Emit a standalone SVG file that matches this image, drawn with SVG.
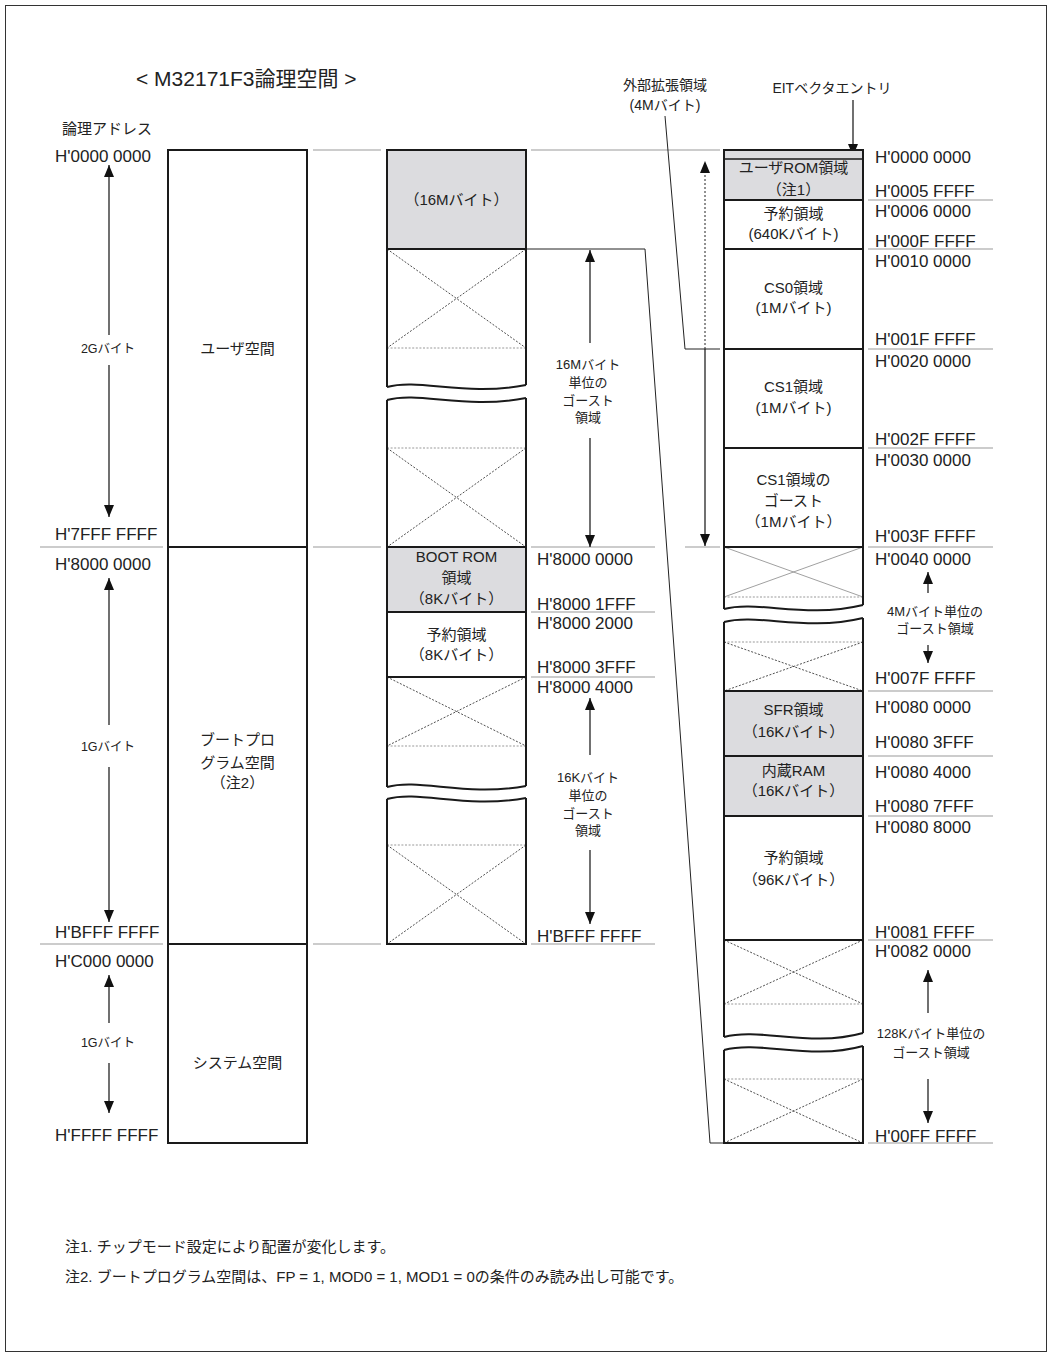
<svg xmlns="http://www.w3.org/2000/svg" width="1050" height="1357" viewBox="0 0 1050 1357">
<style>
text{font-family:"Liberation Sans","Noto Sans CJK JP",sans-serif;fill:#222}
.a{font-size:17px}
.l{font-size:15px;text-anchor:middle}
.s{font-size:13px;text-anchor:middle}
.o{fill:none;stroke:#1a1a1a;stroke-width:2}
.sep{stroke:#1a1a1a;stroke-width:2}
.g{fill:#dcdcdf}
.ad{stroke:#999;stroke-width:1}
.x{stroke:#222;stroke-width:0.8;stroke-dasharray:2 1.6}
.xg{stroke:#888;stroke-width:0.8}
.hd{stroke:#999;stroke-width:1;stroke-dasharray:2 1.6}
.ld{fill:none;stroke:#222;stroke-width:1}
.ar{stroke:#111;stroke-width:1.2;marker-end:url(#ah)}
</style>
<defs>
<marker id="ah" viewBox="0 0 12 10" refX="12" refY="5" markerWidth="12" markerHeight="10" markerUnits="userSpaceOnUse" orient="auto"><path d="M0,0 L12,5 L0,10 z" fill="#111"/></marker>
</defs>
<rect x="5.5" y="5.5" width="1041" height="1346" fill="#fff" stroke="#333" stroke-width="1"/>

<text x="136" y="86" style="font-size:21px">&lt; M32171F3論理空間 &gt;</text>
<text x="62" y="134" style="font-size:15px">論理アドレス</text>

<g id="connectors">
<line class="ad" x1="40" y1="547" x2="163" y2="547"/>
<line class="ad" x1="40" y1="944" x2="163" y2="944"/>
<line class="ad" x1="313" y1="150" x2="381" y2="150"/>
<line class="ad" x1="313" y1="547" x2="381" y2="547"/>
<line class="ad" x1="313" y1="944" x2="381" y2="944"/>
<line class="ad" x1="531" y1="150" x2="720" y2="150"/>
<line class="ad" x1="531" y1="547" x2="655" y2="547"/>
<line class="ad" x1="531" y1="612" x2="655" y2="612"/>
<line class="ad" x1="531" y1="677" x2="655" y2="677"/>
<line class="ad" x1="531" y1="944" x2="655" y2="944"/>
<line class="ad" x1="685" y1="547" x2="720" y2="547"/>
<line class="ad" x1="868" y1="200" x2="993" y2="200"/>
<line class="ad" x1="868" y1="249" x2="993" y2="249"/>
<line class="ad" x1="868" y1="349" x2="993" y2="349"/>
<line class="ad" x1="868" y1="448" x2="993" y2="448"/>
<line class="ad" x1="868" y1="547" x2="993" y2="547"/>
<line class="ad" x1="868" y1="691" x2="993" y2="691"/>
<line class="ad" x1="868" y1="756" x2="993" y2="756"/>
<line class="ad" x1="868" y1="816" x2="993" y2="816"/>
<line class="ad" x1="868" y1="940" x2="993" y2="940"/>
<line class="ad" x1="868" y1="1143" x2="993" y2="1143"/>
<path class="ld" d="M526,249 L645,249 L710,1143 L724,1143"/>
<path class="ld" d="M665,116 L685,349 L720,349"/>
<line x1="705" y1="349" x2="705" y2="161" stroke="#222" stroke-width="1" stroke-dasharray="2 2" marker-end="url(#ah)"/>
<line class="ar" x1="705" y1="349" x2="705" y2="546"/>
<line class="ar" x1="853" y1="100" x2="853" y2="156"/>
<line class="ar" x1="109" y1="335" x2="109" y2="165"/>
<line class="ar" x1="109" y1="365" x2="109" y2="517"/>
<line class="ar" x1="109" y1="725" x2="109" y2="578"/>
<line class="ar" x1="109" y1="767" x2="109" y2="922"/>
<line class="ar" x1="109" y1="1023" x2="109" y2="975"/>
<line class="ar" x1="109" y1="1063" x2="109" y2="1113"/>
<line class="ar" x1="590" y1="343" x2="590" y2="250"/>
<line class="ar" x1="590" y1="438" x2="590" y2="547"/>
<line class="ar" x1="590" y1="755" x2="590" y2="698"/>
<line class="ar" x1="590" y1="850" x2="590" y2="924"/>
<line class="ar" x1="928" y1="593" x2="928" y2="572"/>
<line class="ar" x1="928" y1="645" x2="928" y2="663"/>
<line class="ar" x1="928" y1="1013" x2="928" y2="970"/>
<line class="ar" x1="928" y1="1079" x2="928" y2="1123"/>
</g>

<g id="left-column">
<rect x="168" y="150" width="139" height="993" fill="#fff" class="o"/>
<line class="sep" x1="168" y1="547" x2="307" y2="547"/>
<line class="sep" x1="168" y1="944" x2="307" y2="944"/>
<text class="l" x="237.5" y="354">ユーザ空間</text>
<text class="l" x="237.5" y="745">ブートプロ</text>
<text class="l" x="237.5" y="768">グラム空間</text>
<text class="l" x="237.5" y="788">（注2）</text>
<text class="l" x="237.5" y="1068">システム空間</text>
</g>

<g id="left-labels">
<text class="a" x="55" y="162">H'0000 0000</text>
<text class="a" x="55" y="540">H'7FFF FFFF</text>
<text class="a" x="55" y="570">H'8000 0000</text>
<text class="a" x="55" y="938">H'BFFF FFFF</text>
<text class="a" x="55" y="967">H'C000 0000</text>
<text class="a" x="55" y="1141">H'FFFF FFFF</text>
<text class="s" x="108" y="353" style="font-size:12.5px">2Gバイト</text>
<text class="s" x="108" y="751" style="font-size:12.5px">1Gバイト</text>
<text class="s" x="108" y="1047" style="font-size:12.5px">1Gバイト</text>
</g>

<g id="middle-column">
<rect class="g" x="387" y="150" width="139" height="99"/>
<rect class="g" x="387" y="547" width="139" height="65"/>
<line class="x" x1="387" y1="249" x2="526" y2="348"/>
<line class="x" x1="526" y1="249" x2="387" y2="348"/>
<line class="hd" x1="387" y1="348" x2="526" y2="348"/>
<line class="hd" x1="387" y1="448" x2="526" y2="448"/>
<line class="x" x1="387" y1="448" x2="526" y2="547"/>
<line class="x" x1="526" y1="448" x2="387" y2="547"/>
<line class="x" x1="387" y1="677" x2="526" y2="746"/>
<line class="x" x1="526" y1="677" x2="387" y2="746"/>
<line class="hd" x1="387" y1="746" x2="526" y2="746"/>
<line class="hd" x1="387" y1="845" x2="526" y2="845"/>
<line class="x" x1="387" y1="845" x2="526" y2="944"/>
<line class="x" x1="526" y1="845" x2="387" y2="944"/>
<path class="o" d="M387,387 L387,150 L526,150 L526,385"/>
<path class="o" d="M387,387 C420,378 465,397 526,385"/>
<path class="o" d="M387,400 C420,391 465,410 526,398"/>
<path class="o" d="M387,400 L387,787 M526,398 L526,786"/>
<path class="o" d="M387,787 C420,778 465,797 526,786"/>
<path class="o" d="M387,799 C420,790 465,809 526,798"/>
<path class="o" d="M387,799 L387,944 L526,944 L526,798"/>
<line class="sep" x1="387" y1="249" x2="526" y2="249"/>
<line class="sep" x1="387" y1="547" x2="526" y2="547"/>
<line class="sep" x1="387" y1="612" x2="526" y2="612"/>
<line class="sep" x1="387" y1="677" x2="526" y2="677"/>
<text class="l" x="456.5" y="205">（16Mバイト）</text>
<text class="l" x="456.5" y="562">BOOT ROM</text>
<text class="l" x="456.5" y="583">領域</text>
<text class="l" x="456.5" y="604">（8Kバイト）</text>
<text class="l" x="456.5" y="640">予約領域</text>
<text class="l" x="456.5" y="660">（8Kバイト）</text>
</g>

<g id="middle-labels">
<text class="a" x="537" y="565">H'8000 0000</text>
<text class="a" x="537" y="610">H'8000 1FFF</text>
<text class="a" x="537" y="629">H'8000 2000</text>
<text class="a" x="537" y="673">H'8000 3FFF</text>
<text class="a" x="537" y="693">H'8000 4000</text>
<text class="a" x="537" y="942">H'BFFF FFFF</text>
<text class="s" x="588" y="369">16Mバイト</text>
<text class="s" x="588" y="387">単位の</text>
<text class="s" x="588" y="405">ゴースト</text>
<text class="s" x="588" y="422">領域</text>
<text class="s" x="588" y="782">16Kバイト</text>
<text class="s" x="588" y="800">単位の</text>
<text class="s" x="588" y="818">ゴースト</text>
<text class="s" x="588" y="835">領域</text>
</g>

<g id="right-column">
<rect class="g" x="724" y="150" width="139" height="50"/>
<rect class="g" x="724" y="691" width="139" height="125"/>
<line class="xg" x1="724" y1="547" x2="863" y2="597"/>
<line class="xg" x1="863" y1="547" x2="724" y2="597"/>
<line class="hd" x1="724" y1="597" x2="863" y2="597"/>
<line class="hd" x1="724" y1="642" x2="863" y2="642"/>
<line class="x" x1="724" y1="642" x2="863" y2="691"/>
<line class="x" x1="863" y1="642" x2="724" y2="691"/>
<line class="x" x1="724" y1="940" x2="863" y2="1004"/>
<line class="x" x1="863" y1="940" x2="724" y2="1004"/>
<line class="hd" x1="724" y1="1004" x2="863" y2="1004"/>
<line class="hd" x1="724" y1="1079" x2="863" y2="1079"/>
<line class="x" x1="724" y1="1079" x2="863" y2="1143"/>
<line class="x" x1="863" y1="1079" x2="724" y2="1143"/>
<path class="o" d="M724,609 L724,150 L863,150 L863,605"/>
<path class="o" d="M724,609 C758,600 805,619 863,605"/>
<path class="o" d="M724,622 C758,613 805,632 863,618"/>
<path class="o" d="M724,622 L724,1037 M863,618 L863,1033"/>
<path class="o" d="M724,1037 C760,1027 810,1048 863,1033"/>
<path class="o" d="M724,1050 C760,1040 810,1061 863,1046"/>
<path class="o" d="M724,1050 L724,1143 L863,1143 L863,1046"/>
<line stroke="#1a1a1a" stroke-width="1.5" x1="724" y1="159" x2="863" y2="159"/>
<line class="sep" x1="724" y1="200" x2="863" y2="200"/>
<line class="sep" x1="724" y1="249" x2="863" y2="249"/>
<line class="sep" x1="724" y1="349" x2="863" y2="349"/>
<line class="sep" x1="724" y1="448" x2="863" y2="448"/>
<line class="sep" x1="724" y1="547" x2="863" y2="547"/>
<line class="sep" x1="724" y1="691" x2="863" y2="691"/>
<line class="sep" x1="724" y1="756" x2="863" y2="756"/>
<line class="sep" x1="724" y1="816" x2="863" y2="816"/>
<line class="sep" x1="724" y1="940" x2="863" y2="940"/>
<text class="l" x="793.5" y="173">ユーザROM領域</text>
<text class="l" x="793.5" y="195">（注1）</text>
<text class="l" x="793.5" y="219">予約領域</text>
<text class="l" x="793.5" y="239">(640Kバイト)</text>
<text class="l" x="793.5" y="293">CS0領域</text>
<text class="l" x="793.5" y="313">(1Mバイト)</text>
<text class="l" x="793.5" y="392">CS1領域</text>
<text class="l" x="793.5" y="413">(1Mバイト)</text>
<text class="l" x="793.5" y="485">CS1領域の</text>
<text class="l" x="793.5" y="506">ゴースト</text>
<text class="l" x="793.5" y="527">（1Mバイト）</text>
<text class="l" x="793.5" y="715">SFR領域</text>
<text class="l" x="793.5" y="737">（16Kバイト）</text>
<text class="l" x="793.5" y="776">内蔵RAM</text>
<text class="l" x="793.5" y="796">（16Kバイト）</text>
<text class="l" x="793.5" y="863">予約領域</text>
<text class="l" x="793.5" y="885">（96Kバイト）</text>
</g>

<g id="right-labels">
<text class="l" x="665" y="90" style="font-size:14px">外部拡張領域</text>
<text class="l" x="665" y="110" style="font-size:14px">(4Mバイト)</text>
<text class="l" x="832" y="93" style="font-size:14px">EITベクタエントリ</text>
<text class="a" x="875" y="163">H'0000 0000</text>
<text class="a" x="875" y="197">H'0005 FFFF</text>
<text class="a" x="875" y="217">H'0006 0000</text>
<text class="a" x="875" y="247">H'000F FFFF</text>
<text class="a" x="875" y="267">H'0010 0000</text>
<text class="a" x="875" y="345">H'001F FFFF</text>
<text class="a" x="875" y="367">H'0020 0000</text>
<text class="a" x="875" y="445">H'002F FFFF</text>
<text class="a" x="875" y="466">H'0030 0000</text>
<text class="a" x="875" y="542">H'003F FFFF</text>
<text class="a" x="875" y="565">H'0040 0000</text>
<text class="a" x="875" y="684">H'007F FFFF</text>
<text class="a" x="875" y="713">H'0080 0000</text>
<text class="a" x="875" y="748">H'0080 3FFF</text>
<text class="a" x="875" y="778">H'0080 4000</text>
<text class="a" x="875" y="812">H'0080 7FFF</text>
<text class="a" x="875" y="833">H'0080 8000</text>
<text class="a" x="875" y="938">H'0081 FFFF</text>
<text class="a" x="875" y="957">H'0082 0000</text>
<text class="a" x="875" y="1142">H'00FF FFFF</text>
<text class="s" x="935" y="616">4Mバイト単位の</text>
<text class="s" x="935" y="633">ゴースト領域</text>
<text class="s" x="931" y="1038">128Kバイト単位の</text>
<text class="s" x="931" y="1057">ゴースト領域</text>
</g>

<g id="notes">
<text x="65" y="1252" style="font-size:15px">注1. チップモード設定により配置が変化します。</text>
<text x="65" y="1282" style="font-size:15px">注2. ブートプログラム空間は、FP = 1, MOD0 = 1, MOD1 = 0の条件のみ読み出し可能です。</text>
</g>
</svg>
